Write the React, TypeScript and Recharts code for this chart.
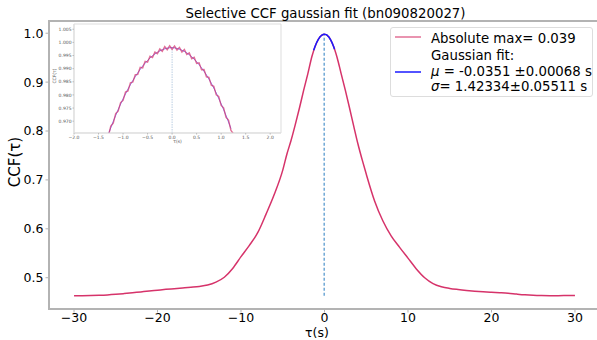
import React from 'react';
import {
  ComposedChart,
  Line,
  XAxis,
  YAxis,
  ReferenceLine,
  ReferenceArea,
  Label,
} from 'recharts';

const FONT = '"DejaVu Sans", sans-serif';
const SPINE = '#b3b3b3';
const RED = '#d6336a';
const BLUE = '#1a1aff';
const VLINE = '#6fa8d6';

// main CCF curve
const mainTau = [
  -30, -29, -28, -27, -26, -25, -24, -23, -22, -21, -20, -19, -18, -17, -16, -15,
  -14, -13, -12, -11, -10, -9, -8, -7, -6, -5, -4.5, -4, -3.5, -3, -2.5, -2, -1.5,
  -1, -0.5, 0, 0.5, 1, 1.5, 2, 2.5, 3, 3.5, 4, 4.5, 5, 6, 7, 8, 9, 10, 11, 12, 13,
  14, 15, 16, 17, 18, 19, 20, 21, 22, 23, 24, 25, 26, 27, 28, 29, 30,
];
const mainCcf = [
  0.463, 0.4632, 0.4635, 0.464, 0.4648, 0.466, 0.4675, 0.4692, 0.471, 0.4728,
  0.4745, 0.4762, 0.4776, 0.479, 0.4805, 0.4822, 0.485, 0.491, 0.501, 0.519,
  0.543, 0.566, 0.592, 0.63, 0.671, 0.72, 0.753, 0.781, 0.813, 0.847, 0.883,
  0.917, 0.953, 0.9785, 0.9935, 0.998, 0.993, 0.977, 0.951, 0.917, 0.883, 0.847,
  0.81, 0.774, 0.742, 0.712, 0.657, 0.616, 0.585, 0.562, 0.54, 0.518, 0.5,
  0.488, 0.4815, 0.478, 0.4758, 0.474, 0.4725, 0.4712, 0.4702, 0.4693, 0.4682,
  0.4665, 0.465, 0.464, 0.4635, 0.4633, 0.4633, 0.4635, 0.4637,
];

// gaussian fit around the peak
const fitTau = [
  -1.3, -1.2, -1.1, -1.0, -0.9, -0.8, -0.7, -0.6, -0.5, -0.4, -0.3, -0.2, -0.1, 0,
  0.1, 0.2, 0.3, 0.4, 0.5, 0.6, 0.7, 0.8, 0.9, 1.0, 1.1, 1.2,
];
const fitCcf = [
  0.965, 0.9699, 0.9744, 0.9785, 0.9822, 0.9855, 0.9884, 0.991, 0.9931, 0.9949,
  0.9962, 0.9972, 0.9978, 0.998, 0.9977, 0.997, 0.996, 0.9945, 0.9926, 0.9903,
  0.9876, 0.9844, 0.9807, 0.9766, 0.9721, 0.9672,
];

// noisy CCF in the zoomed inset
const zoomTau = [
  -1.35, -1.3, -1.25, -1.2, -1.15, -1.1, -1.05, -1.0, -0.95, -0.9, -0.85, -0.8,
  -0.75, -0.7, -0.65, -0.6, -0.55, -0.5, -0.45, -0.4, -0.35, -0.3, -0.25, -0.2,
  -0.15, -0.1, -0.05, 0, 0.05, 0.1, 0.15, 0.2, 0.25, 0.3, 0.35, 0.4, 0.45, 0.5,
  0.55, 0.6, 0.65, 0.7, 0.75, 0.8, 0.85, 0.9, 0.95, 1.0, 1.05, 1.1, 1.15, 1.2, 1.25,
];
const zoomCcf = [
  0.963, 0.9643, 0.9681, 0.9692, 0.9729, 0.9738, 0.9771, 0.9779, 0.9811, 0.9815,
  0.9846, 0.9849, 0.9877, 0.9878, 0.9905, 0.9903, 0.9928, 0.9925, 0.9947, 0.9942,
  0.9963, 0.9957, 0.9975, 0.9966, 0.9984, 0.9972, 0.9987, 0.9974, 0.9986, 0.9971,
  0.9981, 0.9963, 0.9973, 0.9954, 0.996, 0.9938, 0.9943, 0.992, 0.9922, 0.9896,
  0.9897, 0.9869, 0.9867, 0.9837, 0.9833, 0.98, 0.9794, 0.976, 0.9751, 0.9714,
  0.9704, 0.9665, 0.9652,
];

const mainXTicks = [-30, -20, -10, 0, 10, 20, 30];
const mainYTicks = [0.5, 0.6, 0.7, 0.8, 0.9, 1.0];
const zoomXTicks = [-2, -1.5, -1, -0.5, 0, 0.5, 1, 1.5, 2];
const zoomYTicks = [0.97, 0.975, 0.98, 0.985, 0.99, 0.995, 1.0, 1.005];

const peakTau = -0.0351;
const vlineLow = 0.463;
const vlineHigh = 0.998;

const mainX: [number, number] = [-33, 33];
const mainY: [number, number] = [0.436, 1.025];
const zoomX: [number, number] = [-2, 2.22];
const zoomY: [number, number] = [0.9655, 1.007];

const toRows = (xs: number[], ys: number[]) => xs.map((t, i) => ({ tau: t, ccf: ys[i] }));
const minus = (s: string) => s.replace('-', '\u2212');

export default function App() {
  const mainData = toRows(mainTau, mainCcf);
  const fitData = toRows(fitTau, fitCcf);
  const zoomData = toRows(zoomTau, zoomCcf);

  return (
    <div
      style={{
        position: 'absolute',
        left: 0,
        top: 0,
        width: 597,
        height: 340,
        overflow: 'hidden',
        background: '#fff',
        fontFamily: FONT,
      }}
    >
      <ComposedChart width={600} height={340} margin={{ top: 21, right: 0, bottom: 0, left: 0 }}>
        <XAxis
          type="number"
          dataKey="tau"
          domain={mainX}
          ticks={mainXTicks}
          allowDataOverflow
          height={31}
          tickFormatter={(v) => minus(String(v))}
          axisLine={{ stroke: SPINE, strokeWidth: 2 }}
          tickLine={{ stroke: SPINE }}
          tickSize={3.5}
          tickMargin={1}
          tick={{ fill: '#000', fontSize: 12.5, fontFamily: FONT }}
        >
          <Label
            content={() => (
              <text x={317} y={337} textAnchor="middle" fontSize={12.5} fontFamily={FONT} fill="#000">
                τ(s)
              </text>
            )}
          />
        </XAxis>
        <YAxis
          type="number"
          domain={mainY}
          ticks={mainYTicks}
          allowDataOverflow
          width={49}
          tickFormatter={(v) => v.toFixed(1)}
          axisLine={{ stroke: SPINE, strokeWidth: 2 }}
          tickLine={{ stroke: SPINE }}
          tickSize={3.5}
          tickMargin={2}
          tick={{ fill: '#000', fontSize: 12.5, fontFamily: FONT }}
        >
          <Label
            content={() => (
              <text
                x={20}
                y={162}
                transform="rotate(-90 20 162)"
                textAnchor="middle"
                fontSize={15}
                fontFamily={FONT}
                fill="#000"
              >
                CCF(τ)
              </text>
            )}
          />
        </YAxis>
        <ReferenceArea
          x1={mainX[0]}
          x2={mainX[1]}
          y1={mainY[0]}
          y2={mainY[1]}
          fill="none"
          stroke={SPINE}
          strokeWidth={2}
        />
        <ReferenceLine
          segment={[
            { x: peakTau, y: vlineLow },
            { x: peakTau, y: vlineHigh },
          ]}
          stroke={VLINE}
          strokeWidth={1.5}
          strokeDasharray="3 2"
        />
        <Line
          data={mainData}
          dataKey="ccf"
          type="monotone"
          stroke={RED}
          strokeWidth={1.5}
          dot={false}
          activeDot={false}
          isAnimationActive={false}
        />
        <Line
          data={fitData}
          dataKey="ccf"
          type="monotone"
          stroke={BLUE}
          strokeWidth={1.5}
          dot={false}
          activeDot={false}
          isAnimationActive={false}
        />
      </ComposedChart>

      {/* zoomed inset */}
      <div style={{ position: 'absolute', left: 40, top: 14 }}>
        <ComposedChart width={250} height={135} margin={{ top: 10, right: 9, bottom: 0, left: 0 }}>
          <XAxis
            type="number"
            dataKey="tau"
            domain={zoomX}
            ticks={zoomXTicks}
            allowDataOverflow
            height={16}
            tickFormatter={(v) => minus(v.toFixed(1))}
            axisLine={{ stroke: '#ddd' }}
            tickLine={{ stroke: '#bbb' }}
            tickSize={1.5}
            tickMargin={1}
            tick={{ fill: '#555', fontSize: 4.5, fontFamily: FONT }}
          >
            <Label
              content={() => (
                <text x={137.5} y={128.5} textAnchor="middle" fontSize={4.5} fontFamily={FONT} fill="#555">
                  τ(s)
                </text>
              )}
            />
          </XAxis>
          <YAxis
            type="number"
            domain={zoomY}
            ticks={zoomYTicks}
            allowDataOverflow
            width={34}
            tickFormatter={(v) => v.toFixed(3)}
            axisLine={{ stroke: '#ddd' }}
            tickLine={{ stroke: '#bbb' }}
            tickSize={1.5}
            tickMargin={1}
            tick={{ fill: '#555', fontSize: 4.5, fontFamily: FONT }}
          >
            <Label
              content={() => (
                <text
                  x={16}
                  y={62}
                  transform="rotate(-90 16 62)"
                  textAnchor="middle"
                  fontSize={4.5}
                  fontFamily={FONT}
                  fill="#555"
                >
                  CCF(τ)
                </text>
              )}
            />
          </YAxis>
          <ReferenceArea
            x1={zoomX[0]}
            x2={zoomX[1]}
            y1={zoomY[0]}
            y2={zoomY[1]}
            fill="#fff"
            stroke="#ddd"
          />
          <ReferenceLine
            segment={[
              { x: 0, y: zoomY[0] },
              { x: 0, y: vlineHigh },
            ]}
            stroke="#a9c3dc"
            strokeWidth={0.8}
            strokeDasharray="1.5 1"
          />
          <Line
            data={fitData}
            dataKey="ccf"
            type="monotone"
            stroke={BLUE}
            strokeWidth={0.8}
            strokeOpacity={0.7}
            dot={false}
            activeDot={false}
            isAnimationActive={false}
          />
          <Line
            data={zoomData}
            dataKey="ccf"
            type="linear"
            stroke={RED}
            strokeWidth={1.4}
            strokeOpacity={0.7}
            dot={false}
            activeDot={false}
            isAnimationActive={false}
          />
        </ComposedChart>
      </div>

      {/* title */}
      <svg width={597} height={24} style={{ position: 'absolute', left: 0, top: 0 }}>
        <text x={325.5} y={17.5} textAnchor="middle" fontSize={13.3} fontFamily={FONT} fill="#000">
          Selective CCF gaussian fit (bn090820027)
        </text>
      </svg>

      {/* legend */}
      <div
        style={{
          position: 'absolute',
          left: 390,
          top: 27,
          width: 203,
          height: 70,
          boxSizing: 'border-box',
          border: '1px solid #ddd',
          borderRadius: 3,
          background: 'rgba(255,255,255,0.8)',
        }}
      >
        <svg width={203} height={70} style={{ position: 'absolute', left: -1, top: -1 }}>
          <line x1={5} x2={31} y1={10} y2={10} stroke={RED} strokeOpacity={0.7} strokeWidth={1.5} />
          <line x1={5} x2={31} y1={45} y2={45} stroke={BLUE} strokeWidth={1.5} />
          <g fontSize={13.3} fontFamily={FONT} fill="#000">
            <text x={41} y={16}>Absolute max= 0.039</text>
            <text x={41} y={33}>Gaussian fit:</text>
            <text x={41} y={48.5}>
              <tspan fontStyle="italic">μ</tspan>
              {' =  -0.0351 ±0.00068 s'}
            </text>
            <text x={41} y={64}>
              <tspan fontStyle="italic">σ</tspan>
              {'= 1.42334±0.05511 s'}
            </text>
          </g>
        </svg>
      </div>
    </div>
  );
}
